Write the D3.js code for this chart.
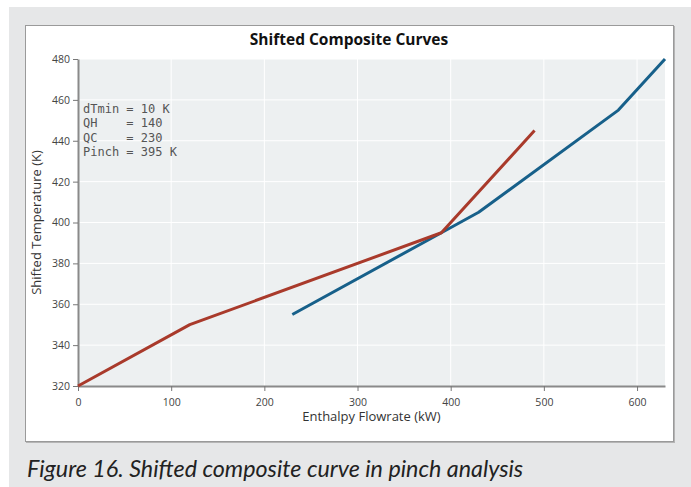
<!DOCTYPE html>
<html>
<head>
<meta charset="utf-8">
<script src="https://cdn.jsdelivr.net/npm/d3@7"></script>
<style>
  body { margin: 0; background: #fff; }
  svg { display: block; }
</style>
</head>
<body>
<div id="chart"></div>
<script>
// hot and cold shifted composite curves (kW, K)
const hotQ = [0, 120, 390, 490];
const hotT = [320, 350, 395, 445];
const coldQ = [230, 390, 430, 580, 630];
const coldT = [355, 395, 405, 455, 480];
const xTicks = [0, 100, 200, 300, 400, 500, 600];
const yTicks = [320, 340, 360, 380, 400, 420, 440, 460, 480];
const notes = ["dTmin = 10 K", "QH    = 140", "QC    = 230", "Pinch = 395 K"];

const W = 691, H = 487;
const plot = { left: 78, top: 59, right: 665, bottom: 386 };

const svg = d3.select("#chart").append("svg")
  .attr("width", W).attr("height", H);

// page background + white panel
svg.append("rect").attr("x", 9).attr("y", 7).attr("width", W - 9).attr("height", H - 7)
  .attr("fill", "#e6e7e8");
svg.append("rect").attr("x", 25.5).attr("y", 25.5).attr("width", 648).attr("height", 416)
  .attr("fill", "#fff").attr("stroke", "#9a9a9a").attr("stroke-width", 1);
svg.append("line").attr("x1", 674.5).attr("x2", 674.5).attr("y1", 26).attr("y2", 442.5)
  .attr("stroke", "#b5b5b5");
svg.append("line").attr("x1", 26).attr("x2", 675).attr("y1", 442.5).attr("y2", 442.5)
  .attr("stroke", "#b5b5b5");

const x = d3.scaleLinear().domain([0, 630]).range([plot.left, plot.right]);
const y = d3.scaleLinear().domain([320, 480]).range([plot.bottom, plot.top]);

svg.append("rect")
  .attr("x", plot.left).attr("y", plot.top)
  .attr("width", plot.right - plot.left).attr("height", plot.bottom - plot.top)
  .attr("fill", "#edf0f1");

// grid
svg.append("g").selectAll("line").data(xTicks.slice(1)).enter().append("line")
  .attr("x1", d => x(d)).attr("x2", d => x(d))
  .attr("y1", plot.top).attr("y2", plot.bottom)
  .attr("stroke", "#fff").attr("stroke-width", 1);
svg.append("g").selectAll("line").data(yTicks.slice(1)).enter().append("line")
  .attr("x1", plot.left).attr("x2", plot.right)
  .attr("y1", d => y(d)).attr("y2", d => y(d))
  .attr("stroke", "#fff").attr("stroke-width", 1);

// axes
const xAxis = svg.append("g")
  .attr("transform", `translate(0,${plot.bottom})`)
  .call(d3.axisBottom(x).tickValues(xTicks).tickSize(5).tickSizeOuter(0));
const yAxis = svg.append("g")
  .attr("transform", `translate(${plot.left},0)`)
  .call(d3.axisLeft(y).tickValues(yTicks).tickSize(5).tickSizeOuter(0));

[xAxis, yAxis].forEach(a => {
  a.select(".domain").attr("stroke", "#8a8a8a").attr("stroke-width", 2);
  a.selectAll(".tick line").attr("stroke", "#777");
  a.selectAll(".tick text")
    .attr("fill", "#444")
    .style("font-family", "'Open Sans', sans-serif")
    .style("font-size", "10.5px");
});
xAxis.selectAll(".tick text").attr("dy", "1.1em");

// curves
const line = d3.line().x(d => x(d[0])).y(d => y(d[1]));
const hot = hotQ.map((q, i) => [q, hotT[i]]);
const cold = coldQ.map((q, i) => [q, coldT[i]]);

svg.append("path").datum(cold).attr("d", line)
  .attr("fill", "none").attr("stroke", "#17608a").attr("stroke-width", 3)
  .attr("stroke-linejoin", "round");
svg.append("path").datum(hot).attr("d", line)
  .attr("fill", "none").attr("stroke", "#a93a2b").attr("stroke-width", 3)
  .attr("stroke-linejoin", "round");

// annotation
svg.append("g").selectAll("text").data(notes).enter().append("text")
  .attr("x", 83).attr("y", (d, i) => 113 + i * 14.3)
  .attr("fill", "#555")
  .style("font-family", "'DejaVu Sans Mono', monospace")
  .style("font-size", "12px")
  .style("white-space", "pre")
  .text(d => d);

// titles
svg.append("text")
  .attr("x", 349).attr("y", 45)
  .attr("text-anchor", "middle")
  .style("font-family", "'Open Sans', sans-serif")
  .style("font-size", "15.5px").style("font-weight", "bold")
  .attr("fill", "#111")
  .text("Shifted Composite Curves");

svg.append("text")
  .attr("x", (plot.left + plot.right) / 2).attr("y", 421)
  .attr("text-anchor", "middle")
  .style("font-family", "'Open Sans', sans-serif")
  .style("font-size", "13px")
  .attr("fill", "#333")
  .text("Enthalpy Flowrate (kW)");

svg.append("text")
  .attr("transform", "rotate(-90)")
  .attr("x", -(plot.top + plot.bottom) / 2).attr("y", 41)
  .attr("text-anchor", "middle")
  .style("font-family", "'Open Sans', sans-serif")
  .style("font-size", "13px")
  .attr("fill", "#333")
  .text("Shifted Temperature (K)");

// caption
svg.append("text")
  .attr("x", 27).attr("y", 477)
  .style("font-family", "Lato, sans-serif")
  .style("font-size", "23.3px").style("font-style", "italic")
  .attr("fill", "#222")
  .text("Figure 16. Shifted composite curve in pinch analysis");
</script>
</body>
</html>
